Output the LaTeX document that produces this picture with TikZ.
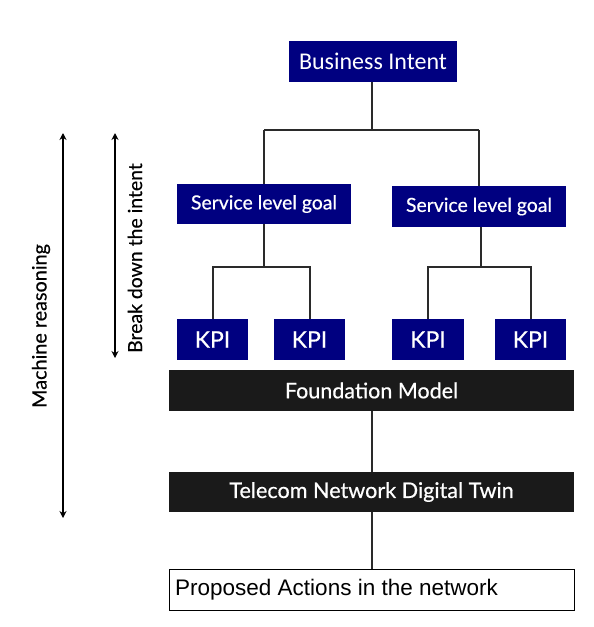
\documentclass[tikz,border=0pt]{standalone}
\usepackage{fontspec}
\setmainfont{Lato}[FakeBold=0.5]
\newfontfamily\carlito{Carlito}
\newfontfamily\arial{Liberation Sans}
\usetikzlibrary{arrows.meta}
\definecolor{navybox}{HTML}{000080}
\definecolor{darkbox}{HTML}{1A1A1A}
\definecolor{linegray}{HTML}{2A2A2A}
\tikzset{
  bluebox/.style={fill=navybox, text=white, inner sep=0pt, anchor=center},
  blackbox/.style={fill=darkbox, text=white, inner sep=0pt, minimum width=405pt, anchor=center},
  conn/.style={draw=linegray, line width=2pt},
  dblarrow/.style={draw=black, line width=2pt, {Stealth[length=7pt,width=7pt]}-{Stealth[length=7pt,width=7pt]}},
}
\begin{document}
\begin{tikzpicture}[x=1pt,y=-1pt]
\useasboundingbox (0,0) rectangle (594,627);
\node[bluebox, minimum width=168pt, minimum height=41pt, font=\carlito\fontsize{24}{28}\selectfont] (BI) at (373,61) {Business Intent};
\node[bluebox, minimum width=174pt, minimum height=40pt, font=\fontsize{19.4}{23}\selectfont] (S1) at (264,204) {Service level goal};
\node[bluebox, minimum width=174pt, minimum height=41pt, font=\fontsize{19.4}{23}\selectfont] (S2) at (479,206.5) {Service level goal};
\node[bluebox, minimum width=71pt, minimum height=41pt, font=\fontsize{23}{27}\selectfont] (K1) at (212.5,339.5) {KPI};
\node[bluebox, minimum width=71pt, minimum height=41pt, font=\fontsize{23}{27}\selectfont] (K2) at (309.5,339.5) {KPI};
\node[bluebox, minimum width=72pt, minimum height=41pt, font=\fontsize{23}{27}\selectfont] (K3) at (428,339.5) {KPI};
\node[bluebox, minimum width=71pt, minimum height=41pt, font=\fontsize{23}{27}\selectfont] (K4) at (530.5,339.5) {KPI};
\node[blackbox, minimum height=41pt, font=\fontsize{21.5}{25}\selectfont] (FM) at (371.5,390.5) {Foundation Model};
\node[blackbox, minimum height=40pt, font=\fontsize{21.6}{25}\selectfont] (TW) at (371.5,492) {Telecom Network Digital Twin};
\node[draw=black, line width=0.8pt, fill=white, minimum width=405pt, minimum height=41pt, inner sep=0pt, anchor=center] (PA) at (371.5,589.5) {};
\node[anchor=west, inner sep=0pt, font=\arial\fontsize{22.5}{26}\selectfont] (PAt) at (175,589.5) {Proposed Actions in the network};
\coordinate (j0) at (372,130);
\coordinate (j1) at (264,267);
\coordinate (j2) at (481,267);
\draw[conn] (j0 |- BI.south) -- (j0);
\draw[conn] (j0 -| S1.north) -- (j0) -- (j0 -| S2.north);
\draw[conn] (j0 -| S1.north) -- (S1.north);
\draw[conn] (j0 -| S2.north) -- (S2.north);
\draw[conn] (j1 |- S1.south) -- (j1);
\draw[conn] (K1.north) |- (j1) -| (K2.north);
\draw[conn] (j2 |- S2.south) -- (j2);
\draw[conn] (K3.north) |- (j2) -| (K4.north);
\draw[conn] (FM.south) -- (TW.north);
\draw[conn] (TW.south) -- (PA.north);
\coordinate (m1) at (63,133);
\coordinate (m2) at (63,518);
\coordinate (b1) at (115,133);
\coordinate (b2) at (115,358);
\draw[dblarrow] (m1) -- (m2);
\draw[dblarrow] (b1) -- (b2);
\node[rotate=90, font=\fontsize{19.8}{23}\selectfont, inner sep=0pt] (ML) at (41,326) {Machine reasoning};
\node[rotate=90, font=\fontsize{19.4}{23}\selectfont, inner sep=0pt] (BL) at (135,258) {Break down the intent};
\end{tikzpicture}
\end{document}
